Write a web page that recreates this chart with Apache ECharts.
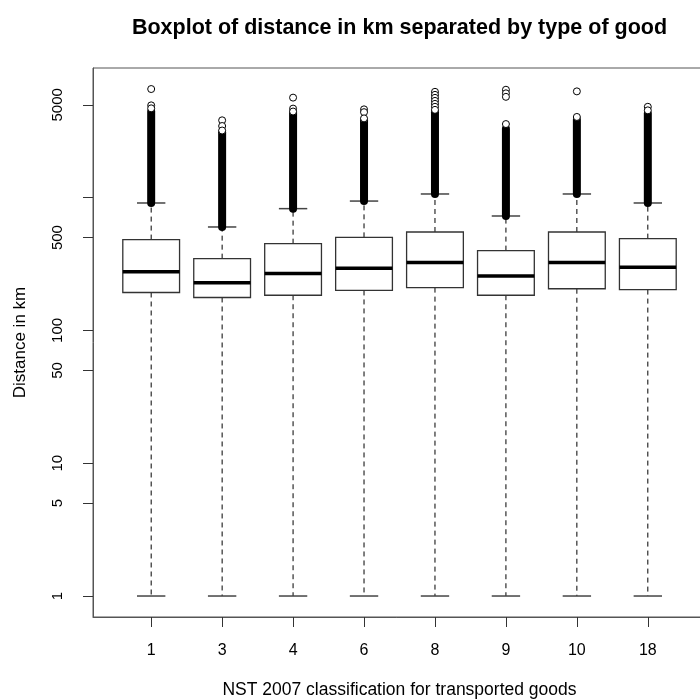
<!DOCTYPE html>
<html>
<head>
<meta charset="utf-8">
<script src="https://cdn.jsdelivr.net/npm/echarts@6/dist/echarts.min.js"></script>
<style>
  html, body { margin: 0; padding: 0; background: #ffffff; }
  #chart { width: 700px; height: 700px; }
</style>
</head>
<body>
<div id="chart"></div>
<script>
// NST 2007 goods classes shown on the x axis
const categories = ['1', '3', '4', '6', '8', '9', '10', '18'];

// Five-number summaries of transport distance (km) per class
const whiskerLow  = [1, 1, 1, 1, 1, 1, 1, 1];
const q1          = [193, 177, 184, 200, 210, 184, 206, 203];
const median      = [277, 229, 268, 294, 324, 257, 324, 299];
const q3          = [483, 347, 450, 502, 551, 399, 551, 491];
const whiskerHigh = [911, 601, 826, 942, 1065, 727, 1065, 911];

// Upper end of the dense run of outliers sitting right above each whisker
const outlierBandTop = [4450, 3100, 4350, 3800, 4400, 3300, 3850, 4300];

// Outliers that stand apart at the top of each class
const outliers = [
  [6570, 4950, 4700],
  [3820, 3460, 3200],
  [5660, 4680, 4450],
  [4620, 4400, 3950],
  [6260, 5940, 5640, 5350, 5080, 4830, 4580],
  [6490, 6100, 5740, 3580],
  [6310, 4050],
  [4830, 4540]
];

// Axis ticks and labels
const yTicks = [1, 5, 10, 50, 100, 500, 1000, 5000];
const yLabels = [1, 5, 10, 50, 100, 500, 5000];

const positions = categories.map((_, i) => i + 1);
const boxData = categories.map((_, i) => [i + 1, whiskerLow[i], q1[i], median[i], q3[i], whiskerHigh[i]]);
const bandData = categories.map((_, i) => [i + 1, whiskerHigh[i], outlierBandTop[i]]);
const outlierPoints = [];
outliers.forEach((list, i) => list.forEach(v => outlierPoints.push([i + 1, v])));

const BOX_HALF = 0.4;
const CAP_HALF = 0.2;
const FONT = 'Liberation Sans, Arial, sans-serif';

function renderBox(params, api) {
  const x = api.value(0);
  const pLow = api.coord([x, api.value(1)]);
  const pQ1 = api.coord([x, api.value(2)]);
  const pMed = api.coord([x, api.value(3)]);
  const pQ3 = api.coord([x, api.value(4)]);
  const pHigh = api.coord([x, api.value(5)]);
  const boxL = api.coord([x - BOX_HALF, api.value(2)])[0];
  const boxR = api.coord([x + BOX_HALF, api.value(2)])[0];
  const capL = api.coord([x - CAP_HALF, api.value(2)])[0];
  const capR = api.coord([x + CAP_HALF, api.value(2)])[0];
  const cx = pMed[0];
  const dashed = { stroke: '#000', lineWidth: 1, lineDash: [5, 4] };
  const cap = { stroke: '#444', lineWidth: 1.5 };
  return {
    type: 'group',
    children: [
      { type: 'line', shape: { x1: cx, y1: pQ1[1], x2: cx, y2: pLow[1] }, style: dashed },
      { type: 'line', shape: { x1: cx, y1: pQ3[1], x2: cx, y2: pHigh[1] }, style: dashed },
      { type: 'line', shape: { x1: capL, y1: pLow[1], x2: capR, y2: pLow[1] }, style: cap },
      { type: 'line', shape: { x1: capL, y1: pHigh[1], x2: capR, y2: pHigh[1] }, style: cap },
      { type: 'rect', shape: { x: boxL, y: pQ3[1], width: boxR - boxL, height: pQ1[1] - pQ3[1] },
        style: { fill: '#fff', stroke: '#333', lineWidth: 1.3 } },
      { type: 'line', shape: { x1: boxL, y1: pMed[1], x2: boxR, y2: pMed[1] },
        style: { stroke: '#000', lineWidth: 3.5 } }
    ]
  };
}

function renderBand(params, api) {
  const x = api.value(0);
  const a = api.coord([x, api.value(1)]);
  const b = api.coord([x, api.value(2)]);
  return {
    type: 'line',
    shape: { x1: a[0], y1: a[1], x2: b[0], y2: b[1] },
    style: { stroke: '#000', lineWidth: 8, lineCap: 'round' }
  };
}

const chart = echarts.init(document.getElementById('chart'), null, { renderer: 'canvas' });

chart.setOption({
  backgroundColor: '#fff',
  animation: false,
  title: {
    text: 'Boxplot of distance in km separated by type of good',
    left: 399.5,
    top: 17,
    padding: 0,
    textAlign: 'center',
    textStyle: { fontFamily: FONT, fontSize: 21.5, fontWeight: 'bold', color: '#000' }
  },
  grid: {
    left: 93, top: 68, width: 613, height: 549,
    outerBoundsMode: 'none',
    containLabel: false,
    show: true, borderColor: '#555', borderWidth: 1, backgroundColor: 'transparent'
  },
  xAxis: {
    type: 'value',
    min: 0.18,
    max: 8.82,
    name: 'NST 2007 classification for transported goods',
    nameLocation: 'middle',
    nameGap: 64,
    nameTextStyle: { fontFamily: FONT, fontSize: 17.5, color: '#000' },
    axisLine: { show: true, lineStyle: { color: '#555', width: 1 } },
    axisTick: { show: true, length: 10, customValues: positions, lineStyle: { color: '#333' } },
    axisLabel: {
      customValues: positions,
      margin: 26,
      fontFamily: FONT, fontSize: 16, color: '#000',
      formatter: v => categories[Math.round(v) - 1]
    },
    splitLine: { show: false }
  },
  yAxis: {
    type: 'log',
    logBase: 10,
    min: Math.pow(10, -0.158),
    max: Math.pow(10, 3.976),
    name: 'Distance in km',
    nameLocation: 'middle',
    nameRotate: 90,
    nameGap: 64,
    nameTextStyle: { fontFamily: FONT, fontSize: 17, color: '#000' },
    axisLine: { show: true, lineStyle: { color: '#555', width: 1 } },
    axisTick: { show: true, length: 10, customValues: yTicks, lineStyle: { color: '#333' } },
    axisLabel: {
      customValues: yLabels,
      rotate: 90,
      margin: 28,
      fontFamily: FONT, fontSize: 15, color: '#000',
      formatter: v => String(v)
    },
    splitLine: { show: false },
    minorTick: { show: false }
  },
  series: [
    {
      type: 'custom',
      name: 'boxes',
      renderItem: renderBox,
      encode: { x: 0, y: [1, 2, 3, 4, 5] },
      data: boxData,
      z: 2
    },
    {
      type: 'custom',
      name: 'outlier run',
      renderItem: renderBand,
      encode: { x: 0, y: [1, 2] },
      data: bandData,
      z: 3
    },
    {
      type: 'scatter',
      name: 'outliers',
      symbol: 'circle',
      symbolSize: 7,
      itemStyle: { color: '#fff', borderColor: '#000', borderWidth: 1, opacity: 1 },
      data: outlierPoints,
      z: 4
    }
  ]
});
</script>
</body>
</html>
